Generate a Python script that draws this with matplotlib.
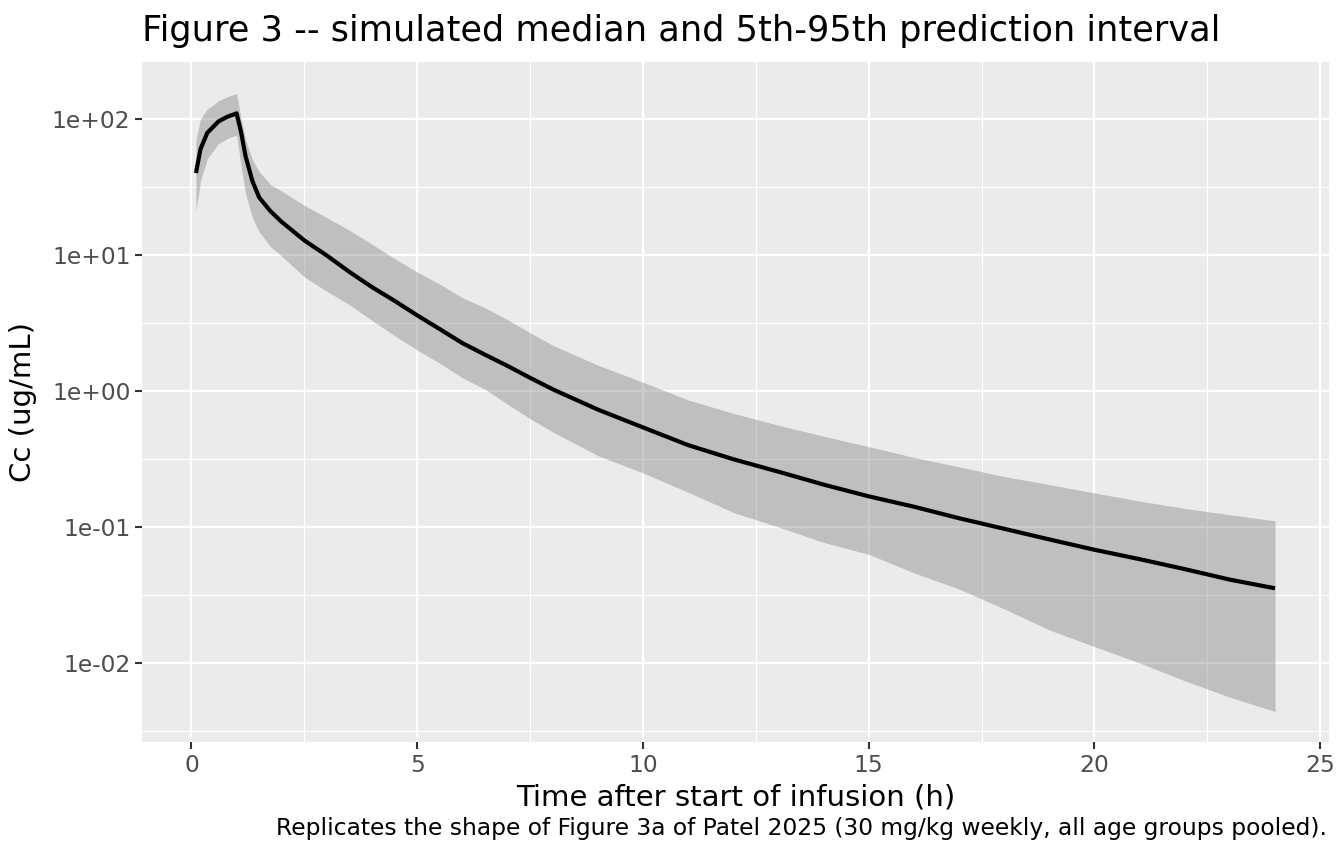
import numpy as np
import matplotlib
matplotlib.use("Agg")
import matplotlib.pyplot as plt
from matplotlib.ticker import FixedLocator, NullFormatter

# ---- data ----
time_h = [0.1, 0.2, 0.35, 0.6, 0.8, 1.0, 1.1, 1.2, 1.35, 1.5, 1.75, 2.0, 2.5,
          3.0, 3.5, 4.0, 4.5, 5.0, 5.5, 6.0, 6.5, 7.0, 7.5, 8.0, 9.0, 10.0,
          11.0, 12.0, 13.0, 14.0, 15.0, 16.0, 17.0, 18.0, 19.0, 20.0, 21.0,
          22.0, 23.0, 24.0]
median_cc = [40, 60, 79, 96, 104, 110, 80, 53, 35, 26.5, 21.0, 17.5, 12.8,
             9.9, 7.5, 5.8, 4.6, 3.6, 2.85, 2.25, 1.85, 1.53, 1.25, 1.03, 0.73,
             0.54, 0.40, 0.315, 0.255, 0.205, 0.168, 0.141, 0.116, 0.097, 0.081,
             0.068, 0.058, 0.049, 0.041, 0.0354]
p95_cc = [70, 100, 118, 136, 146, 154, 100, 70, 50, 41, 33, 29.5, 23.2,
          18.8, 15.2, 12.0, 9.4, 7.5, 6.1, 4.85, 4.1, 3.35, 2.68, 2.17, 1.55,
          1.16, 0.86, 0.685, 0.56, 0.465, 0.39, 0.325, 0.277, 0.235, 0.205,
          0.178, 0.155, 0.137, 0.123, 0.111]
p05_cc = [21, 35, 51, 66, 72, 76, 45, 28, 18.8, 14.8, 11.5, 9.8, 6.9,
          5.4, 4.3, 3.3, 2.55, 2.0, 1.6, 1.25, 1.03, 0.8, 0.625, 0.5, 0.335,
          0.25, 0.18, 0.128, 0.1, 0.077, 0.063, 0.046, 0.035, 0.025, 0.0175,
          0.0132, 0.010, 0.0074, 0.0056, 0.0044]

x_ticks = [0, 5, 10, 15, 20, 25]
y_ticks = [1e-2, 1e-1, 1e0, 1e1, 1e2]
y_tick_labels = ["1e-02", "1e-01", "1e+00", "1e+01", "1e+02"]

title = "Figure 3 -- simulated median and 5th-95th prediction interval"
x_label = "Time after start of infusion (h)"
y_label = "Cc (ug/mL)"
caption = "Replicates the shape of Figure 3a of Patel 2025 (30 mg/kg weekly, all age groups pooled)."

# ---- figure ----
W, H = 1344, 864
fig = plt.figure(figsize=(W / 100, H / 100), dpi=100)
fig.patch.set_facecolor("white")

left, right, top, bottom = 142, 1329, 62, 742
ax = fig.add_axes([left / W, 1 - bottom / H, (right - left) / W, (bottom - top) / H])
ax.set_facecolor("#EBEBEB")
for s in ax.spines.values():
    s.set_visible(False)

ax.fill_between(time_h, p05_cc, p95_cc, color="#7F7F7F", alpha=0.4, linewidth=0, zorder=3)
ax.plot(time_h, median_cc, color="black", linewidth=3.0, zorder=4,
        solid_joinstyle="round", solid_capstyle="butt")

ax.set_yscale("log")
ax.set_xlim(-1.095, 25.195)
ax.set_ylim(10 ** -2.581, 10 ** 2.419)

ax.xaxis.set_major_locator(FixedLocator(x_ticks))
ax.xaxis.set_minor_locator(FixedLocator([2.5, 7.5, 12.5, 17.5, 22.5]))
ax.yaxis.set_major_locator(FixedLocator(y_ticks))
ax.set_yticklabels(y_tick_labels)
ax.yaxis.set_minor_locator(FixedLocator([10 ** (k + 0.5) for k in range(-3, 3)]))
ax.yaxis.set_minor_formatter(NullFormatter())

ax.grid(which="major", color="white", linewidth=1.6, zorder=1)
ax.grid(which="minor", color="white", linewidth=0.8, zorder=1)
ax.set_axisbelow(True)

ax.tick_params(which="major", length=5.3, width=1.5, color="#333333",
               labelcolor="#4D4D4D", labelsize=16.8, pad=3)
ax.tick_params(which="minor", length=0)

ax.set_xlabel(x_label, fontsize=21, color="black", labelpad=5)
ax.set_ylabel(y_label, fontsize=21, color="black", labelpad=11)

fig.text(left / W, 1 - 41 / H, title, fontsize=25.3, color="black",
         ha="left", va="baseline")
fig.text(1327 / W, 1 - 835 / H, caption, fontsize=16.8, color="black",
         ha="right", va="baseline")

fig.savefig("out.png", dpi=100)
